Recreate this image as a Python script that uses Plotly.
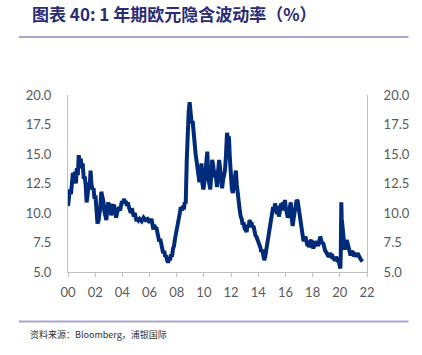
import plotly.graph_objects as go

# Decimal years since 2000 and 1Y EUR implied volatility (%)
years = [0.00,0.07,0.14,0.22,0.29,0.36,0.43,0.51,0.58,0.65,0.72,0.79,0.87,0.94,1.01,1.08,1.16,1.23,1.30,1.37,
         1.44,1.52,1.59,1.66,1.73,1.81,1.88,1.95,2.02,2.09,2.17,2.24,2.31,2.38,2.45,2.53,2.60,2.67,2.74,2.82,
         2.89,2.96,3.03,3.10,3.18,3.25,3.32,3.39,3.47,3.54,3.61,3.68,3.75,3.83,3.90,3.97,4.04,4.12,4.19,4.26,
         4.33,4.40,4.48,4.55,4.62,4.69,4.77,4.84,4.91,4.98,5.05,5.13,5.20,5.27,5.42,5.56,5.70,5.85,5.99,6.14,
         6.21,6.28,6.35,6.43,6.50,6.57,6.64,6.71,6.79,6.86,6.93,7.00,7.08,7.15,7.22,7.29,7.36,7.44,7.51,7.58,
         7.65,7.73,7.80,7.87,7.94,8.01,8.09,8.16,8.23,8.30,8.38,8.45,8.52,8.59,8.66,8.74,8.81,8.88,8.95,9.03,
         9.10,9.17,9.24,9.31,9.39,9.46,9.53,9.60,9.67,9.75,9.82,9.89,9.96,10.04,10.11,10.18,10.25,10.32,10.40,10.47,
         10.54,10.61,10.69,10.76,10.83,10.90,10.97,11.05,11.12,11.19,11.26,11.34,11.41,11.48,11.55,11.62,11.70,11.77,11.84,11.91,
         11.98,12.06,12.13,12.20,12.27,12.35,12.42,12.49,12.56,12.64,12.71,12.78,12.85,12.92,12.99,13.07,13.14,13.21,13.29,13.36,
         13.43,13.50,13.57,13.65,13.72,13.79,13.86,13.94,14.01,14.08,14.15,14.22,14.30,14.37,14.44,14.51,14.58,14.66,14.73,14.80,
         14.87,14.95,15.02,15.09,15.16,15.23,15.31,15.38,15.45,15.52,15.60,15.67,15.74,15.81,15.88,15.96,16.03,16.10,16.17,16.25,
         16.32,16.39,16.46,16.53,16.61,16.68,16.75,16.82,16.90,16.97,17.04,17.11,17.18,17.26,17.33,17.40,17.47,17.55,17.62,17.69,
         17.76,17.83,17.91,17.98,18.05,18.12,18.19,18.27,18.34,18.41,18.48,18.56,18.63,18.70,18.77,18.84,18.92,18.99,19.06,19.13,
         19.21,19.28,19.35,19.42,19.49,19.57,19.64,19.71,19.78,19.86,19.93,20.00,20.04,20.07,20.11,20.14,20.22,20.29,20.36,20.43,
         20.51,20.58,20.65,20.72,20.79,20.87,20.94,21.01,21.08,21.16,21.23,21.30,21.37,21.44,21.52,21.59,21.66]
vol = [10.6,11.3,12.0,11.6,13.0,13.4,12.6,13.5,12.5,13.8,13.2,14.9,14.2,14.6,13.8,14.2,12.9,13.1,12.4,10.9,
       11.5,12.6,12.0,13.6,12.4,12.0,12.1,11.2,11.5,9.8,9.1,9.3,9.8,10.5,11.8,11.5,11.0,10.2,9.6,9.4,
       10.3,10.9,10.5,10.8,9.8,10.4,10.6,10.7,10.2,9.6,10.0,10.4,10.5,10.2,10.8,11.0,10.8,11.2,10.9,11.0,
       10.6,10.9,10.5,10.3,10.0,10.4,10.1,9.7,10.0,9.5,9.3,9.6,9.4,9.5,9.3,9.6,9.4,9.5,9.2,9.5,
       8.9,8.6,9.0,8.7,8.8,8.3,7.9,7.6,7.8,7.1,7.0,6.6,6.8,6.3,6.4,6.0,5.8,6.1,6.0,6.5,
       6.3,7.0,7.2,7.8,8.2,8.4,8.8,9.4,10.0,10.5,10.2,10.6,10.3,10.9,10.8,14.5,18.0,18.6,19.4,18.4,
       17.6,17.8,16.5,16.2,15.0,14.4,13.8,13.2,12.6,13.5,14.2,12.5,12.0,12.6,13.6,14.5,15.2,13.0,12.2,12.0,
       13.2,14.5,14.0,13.0,13.6,12.4,12.2,13.6,14.5,13.8,12.4,12.1,12.8,13.2,13.6,14.8,16.8,16.2,16.5,14.6,
       12.8,12.0,11.7,12.2,13.0,13.6,12.4,11.4,10.6,10.2,9.7,9.5,9.0,9.2,8.7,8.6,8.4,9.0,8.8,9.4,
       9.1,9.2,8.8,8.9,8.3,8.1,8.0,7.8,7.5,7.3,7.1,6.7,6.9,6.4,6.0,6.3,6.8,7.1,7.6,8.0,
       8.6,9.2,9.8,10.5,10.1,10.8,10.4,9.9,10.6,9.7,10.2,10.8,10.3,10.9,10.2,11.1,10.4,9.9,9.6,10.0,
       10.5,10.9,9.6,8.9,9.6,10.0,10.6,11.1,11.0,10.5,10.0,9.4,8.8,8.2,7.6,7.8,8.0,7.6,7.2,7.4,
       7.1,7.6,7.7,7.3,7.0,7.3,7.6,7.4,7.5,7.2,7.6,8.0,7.7,7.4,7.5,7.1,6.8,6.7,6.5,6.4,
       6.3,6.6,6.4,6.5,6.2,6.1,6.0,6.3,6.1,6.2,5.8,5.5,5.3,6.5,10.9,9.5,8.6,7.6,6.9,7.3,
       7.7,7.4,7.0,6.5,6.4,6.8,6.6,6.7,6.3,6.5,6.3,6.6,6.4,6.2,6.1,6.0,5.9]

x_vals = [2000 + t for t in years]
tick_years = list(range(2000, 2023, 2))
tick_text = ["%02d" % (y % 100) for y in tick_years]
y_ticks = [5.0, 7.5, 10.0, 12.5, 15.0, 17.5, 20.0]

title_text = "<b>图表 40:</b> <b>1 年期欧元隐含波动率（%）</b>"
source_text = "资料来源：Bloomberg，浦银国际"

line_color = "#002A7A"
axis_color = "#BFBFBF"
tick_font = dict(family="Lato, Liberation Sans, sans-serif", size=13, color="#595959")

fig = go.Figure()
fig.add_trace(go.Scatter(x=x_vals, y=vol, mode="lines",
                         line=dict(color=line_color, width=4, shape="linear"),
                         showlegend=False, hoverinfo="skip"))
fig.add_trace(go.Scatter(x=x_vals, y=vol, mode="lines", yaxis="y2",
                         line=dict(color="rgba(0,0,0,0)", width=0),
                         showlegend=False, hoverinfo="skip"))

W, H = 422, 355
L, R, T, B = 68, 372.7, 95, 272
pw, ph = R - L, B - T

def px(x):
    return (x - L) / pw

def py(y):
    return (B - y) / ph

fig.update_layout(
    width=W, height=H,
    margin=dict(l=L, r=W - R, t=T, b=H - B, pad=0),
    paper_bgcolor="white", plot_bgcolor="white",
    xaxis=dict(range=[2000, 2022], tickvals=tick_years, ticktext=tick_text,
               showgrid=False, zeroline=False, showline=True, linecolor=axis_color, linewidth=1,
               ticks="outside", ticklen=4, tickcolor=axis_color, tickfont=tick_font,
               ticklabelstandoff=4),
    yaxis=dict(range=[5, 20], tickvals=y_ticks, ticktext=["%.1f" % v for v in y_ticks],
               showgrid=False, zeroline=False, showline=True, linecolor=axis_color, linewidth=1,
               ticks="", tickfont=tick_font, ticklabelstandoff=13),
    yaxis2=dict(range=[5, 20], tickvals=y_ticks, ticktext=["%.1f" % v for v in y_ticks],
                overlaying="y", side="right", showgrid=False, zeroline=False,
                showline=True, linecolor=axis_color, linewidth=1, ticks="",
                tickfont=tick_font, ticklabelstandoff=13),
    shapes=[
        dict(type="line", xref="paper", yref="paper", x0=px(18), x1=px(415), y0=py(37), y1=py(37),
             line=dict(color="#A9A6CF", width=2)),
        dict(type="line", xref="paper", yref="paper", x0=px(18), x1=px(415), y0=py(321.5), y1=py(321.5),
             line=dict(color="#A9A6CF", width=2)),
    ],
    annotations=[
        dict(text=title_text, xref="paper", yref="paper", x=px(29), y=py(13),
             xanchor="left", yanchor="middle", showarrow=False,
             font=dict(family="Noto Sans CJK SC", size=17, color="#2A2C78")),
        dict(text=source_text, xref="paper", yref="paper", x=px(27), y=py(334),
             xanchor="left", yanchor="middle", showarrow=False,
             font=dict(family="Noto Sans CJK SC", size=9, color="#333333")),
    ],
)

fig.write_html("out.html", config={"displayModeBar": False},
               post_script="document.body.style.margin='0';")
